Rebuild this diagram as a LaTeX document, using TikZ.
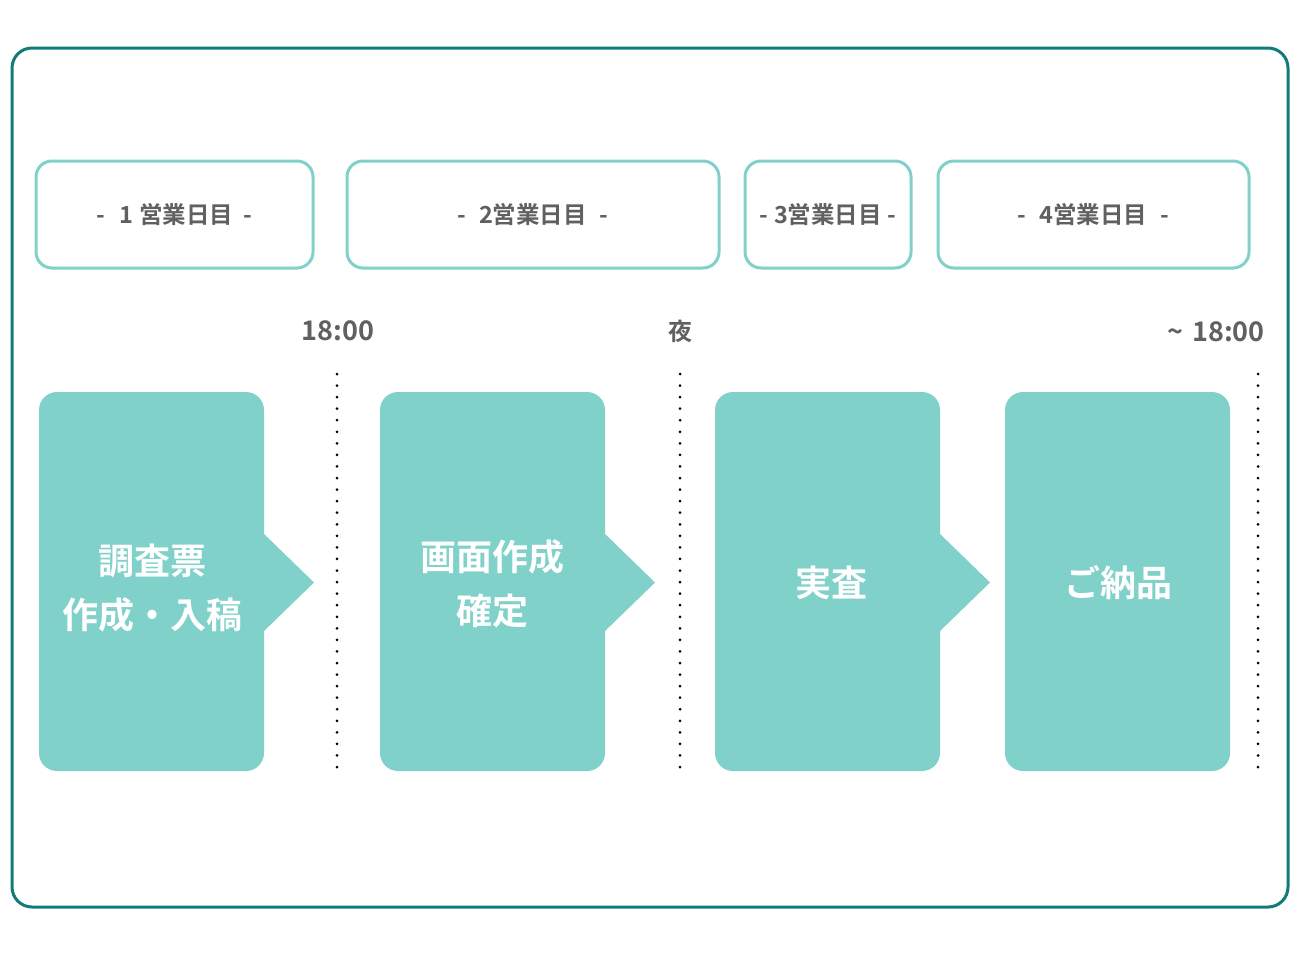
\documentclass[tikz,border=0pt]{standalone}
\usepackage{fontspec}
\newfontfamily\jpb{Noto Sans CJK JP Bold}
\setmainfont{Noto Sans CJK JP}
\definecolor{frame}{HTML}{0F7B7B}
\definecolor{lteal}{HTML}{80D1CA}
\definecolor{tgray}{HTML}{606060}
\begin{document}
\begin{tikzpicture}[x=1pt,y=-1pt,
  daybox/.style={draw=lteal,line width=3pt,rounded corners=16pt,fill=white,inner sep=0pt,text=tgray,font=\jpb\fontsize{23.5}{26}\selectfont},
  stepbox/.style={fill=lteal,rounded corners=18pt,inner sep=0pt,text=white,align=center,font=\jpb\fontsize{36}{54}\selectfont},
  tiplab/.style={text=tgray,font=\jpb\fontsize{27}{30}\selectfont,inner sep=0pt},
  dots/.style={line width=3pt,line cap=round,dash pattern=on 0pt off 11.56pt}]
\useasboundingbox (0,0) rectangle (1304,972);
\draw[frame,line width=3pt,rounded corners=20pt] (12,48) rectangle (1288,907);
% day boxes
\node[daybox,minimum width=277pt,minimum height=107pt] (d1) at (174.5,214.5) {-\hspace{14pt}1\hspace{6pt}営業日目\hspace{10pt}-};
\node[daybox,minimum width=372pt,minimum height=107pt] (d2) at (533,214.5) {-\hspace{13pt}2営業日目\hspace{13pt}-};
\node[daybox,minimum width=166pt,minimum height=107pt] (d3) at (828,214.5) {-\hspace{6pt}3営業日目\hspace{6pt}-};
\node[daybox,minimum width=311pt,minimum height=107pt] (d4) at (1093.5,214.5) {-\hspace{13pt}4営業日目\hspace{13pt}-};
% time labels
\node[tiplab] (t1) at (338,331) {18:00};
\node[tiplab,font=\jpb\fontsize{24}{28}\selectfont] (t2) at (680,331) {夜};
\node[tiplab,anchor=base east] (t3) at (1265,341) {\char"7E\hspace{9pt}18:00};
% dotted lines
\coordinate (a1) at (337,374); \coordinate (b1) at (337,768);
\coordinate (a2) at (680,374); \coordinate (b2) at (680,768);
\coordinate (a3) at (1258,374); \coordinate (b3) at (1258,768);
\draw[dots] (a1) -- (b1);
\draw[dots] (a2) -- (b2);
\draw[dots] (a3) -- (b3);
% arrows
\fill[lteal] (262,532) -- (314,582.5) -- (262,633) -- cycle;
\fill[lteal] (603,532) -- (655,582.5) -- (603,633) -- cycle;
\fill[lteal] (938,532) -- (990,582.5) -- (938,633) -- cycle;
% steps
\node[stepbox,minimum width=225pt,minimum height=379pt] (s1) at (151.5,581.5) {};
\node[stepbox,minimum width=225pt,minimum height=379pt] (s2) at (492.5,581.5) {};
\node[stepbox,minimum width=225pt,minimum height=379pt] (s3) at (827.5,581.5) {};
\node[stepbox,minimum width=225pt,minimum height=379pt] (s4) at (1117.5,581.5) {};
\node[stepbox,fill=none] (l1) at (152,588) {調査票\\作成・入稿};
\node[stepbox,fill=none] (l2) at (492,583.5) {画面作成\\確定};
\node[stepbox,fill=none] (l3) at (831,583) {実査};
\node[stepbox,fill=none] (l4) at (1118,583) {ご納品};
\end{tikzpicture}
\end{document}
